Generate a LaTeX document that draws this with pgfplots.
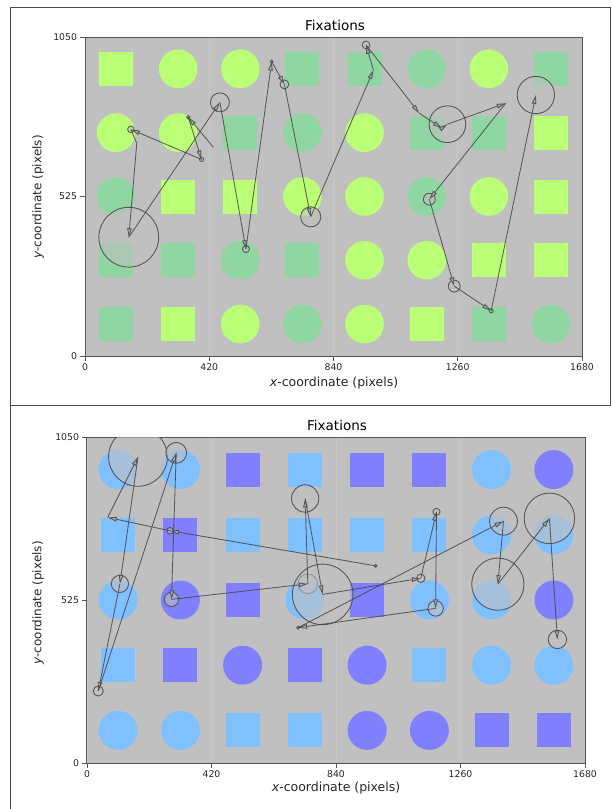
\documentclass[border=0pt]{standalone}
\usepackage{pgfplots}
\pgfplotsset{compat=1.18}
\usepackage{pgfplotstable}
\usepackage{fontspec}
\setmainfont{DejaVu Sans}
\usetikzlibrary{arrows.meta}
\definecolor{bgc}{RGB}{192,192,192}
\definecolor{limec}{RGB}{187,255,119}
\definecolor{greenc}{RGB}{143,214,163}
\definecolor{lbluec}{RGB}{128,192,255}
\definecolor{purpc}{RGB}{128,128,255}
\definecolor{gridc}{RGB}{200,200,200}
\definecolor{axc}{RGB}{85,85,85}
\definecolor{fixc}{RGB}{70,70,70}
\definecolor{headc}{RGB}{170,170,170}

% fixations: x y r (pixels of the screen)
\pgfplotstableread{
x y r
349 786 6
394 647 7
155 746 11
148 391 101
456 835 32
544 352 12
631 969 5
674 894 15
763 458 34
950 1024 13
1225 763 62
1164 516 20
1248 230 20
1373 149 7
1524 859 63
}\topfix

% saccades: from (x1,y1) to (x2,y2)
\pgfplotstableread{
x1 y1 x2 y2
434 687 349 786
349 786 394 647
394 647 155 746
175 700 148 391
148 391 456 835
456 835 544 352
544 352 631 969
631 969 674 894
674 894 763 458
763 458 975 941
975 941 950 1024
950 1024 1130 799
1130 799 1206 750
1206 750 1225 763
1225 763 1422 832
1422 832 1164 516
1164 516 1248 230
1248 230 1373 149
1373 149 1524 859
}\topseg

\pgfplotstableread{
x y r
974 635 5
280 748 11
172 986 99
111 577 29
38 232 17
301 999 35
285 527 24
745 577 33
736 852 46
795 543 102
1126 595 14
1179 809 12
1176 498 26
712 436 5
1405 779 47
1386 576 88
1560 788 85
1587 398 31
}\botfix

\pgfplotstableread{
x1 y1 x2 y2
974 635 280 748
280 748 70 791
70 791 172 986
172 986 111 577
111 577 38 232
38 232 301 999
301 999 285 527
285 527 745 577
745 577 736 852
736 852 795 543
795 543 1126 595
1126 595 1179 809
1179 809 1176 498
1176 498 712 436
712 436 1405 779
1405 779 1386 576
1386 576 1560 788
1560 788 1587 398
}\botseg

\pgfplotsset{
  fixaxis/.style={
    scale only axis,
    xmin=0, xmax=1680, ymin=0, ymax=1050,
    xtick={0,420,840,1260,1680}, ytick={0,525,1050},
    xtick pos=left, ytick pos=left,
    tick align=outside, major tick length=4.5pt,
    axis line style={draw=axc, line width=1pt},
    tick style={draw=axc, line width=0.8pt},
    axis background/.style={fill=bgc},
    xmajorgrids, major grid style={draw=gridc, line width=0.8pt},
    tick label style={font=\fontsize{9.3}{11}\selectfont, text=black!85},
    /pgf/number format/assume math mode=true,
    /pgf/number format/1000 sep={},
    clip marker paths=true,
  },
  shp/.style={only marks, mark options={draw=#1, draw opacity=0, line width=0pt, fill=#1}},
  fixcirc/.style={scatter, only marks, mark=*,
    visualization depends on={\thisrow{r}*#1 \as \msize},
    scatter/@pre marker code/.code={%
      \pgfmathsetlength{\pgfplotmarksize}{\msize pt}%
      \scope[draw=fixc, fill=bgc, fill opacity=0.6, draw opacity=0.85, line width=0.9pt]},
    scatter/@post marker code/.code={\endscope}},
  sacc/.style={draw=fixc, draw opacity=0.85, line width=0.85pt,
    -{Triangle[length=9pt,width=4.6pt,fill=headc]},
    quiver={u=\thisrow{x2}-\thisrow{x1}, v=\thisrow{y2}-\thisrow{y1}}},
}

\begin{document}
\begin{tikzpicture}
\path[use as bounding box] (0,0) rectangle (611pt,-809pt);

% ---------------- top panel ----------------
\begin{axis}[fixaxis, width=497pt, height=319pt, at={(85pt,-356pt)}, anchor=south west]
\addplot[shp=limec, mark=square*, mark size=17pt] coordinates {
 (105,945) (1575,735) (315,525) (525,525) (1575,525) (1365,315) (1575,315) (315,105) (1155,105)};
\addplot[shp=limec, mark=*, mark size=19.3pt] coordinates {
 (315,945) (525,945) (1365,945) (105,735) (315,735) (945,735) (735,525) (945,525) (1365,525) (945,315) (1155,315) (525,105) (945,105)};
\addplot[shp=greenc, mark=square*, mark size=17pt] coordinates {
 (735,945) (945,945) (1575,945) (525,735) (1155,735) (1365,735) (105,315) (315,315) (735,315) (105,105) (1365,105)};
\addplot[shp=greenc, mark=*, mark size=19.3pt] coordinates {
 (1155,945) (735,735) (105,525) (1155,525) (525,315) (735,105) (1575,105)};
\addplot[fixcirc=0.296] table[x=x,y=y]{\topfix};
\addplot[draw=fixc, draw opacity=0.85, line width=0.85pt, no marks] coordinates {(155,746) (175,700)};
\addplot[sacc] table[x=x1,y=y1]{\topseg};
\end{axis}

% ---------------- bottom panel ----------------
\begin{axis}[fixaxis, width=498pt, height=326pt, at={(87pt,-763pt)}, anchor=south west]
\addplot[shp=lbluec, mark=square*, mark size=17pt] coordinates {
 (735,945) (105,735) (525,735) (735,735) (945,735) (1155,735) (105,315) (1155,315) (525,105) (735,105)};
\addplot[shp=lbluec, mark=*, mark size=19.5pt] coordinates {
 (105,945) (315,945) (1365,945) (1365,735) (1575,735) (105,525) (735,525) (1155,525) (1365,525) (1365,315) (1575,315) (105,105) (315,105)};
\addplot[shp=purpc, mark=square*, mark size=17pt] coordinates {
 (525,945) (945,945) (1155,945) (315,735) (525,525) (945,525) (315,315) (735,315) (1365,105) (1575,105)};
\addplot[shp=purpc, mark=*, mark size=19.5pt] coordinates {
 (1575,945) (315,525) (1575,525) (525,315) (945,315) (945,105) (1155,105)};
\addplot[fixcirc=0.297] table[x=x,y=y]{\botfix};
\addplot[sacc] table[x=x1,y=y1]{\botseg};
\end{axis}

% titles and labels
\node[font=\fontsize{13.5}{15}\selectfont] at (335pt,-25pt) {Fixations};
\node[font=\fontsize{12.5}{14}\selectfont, text=black!85] at (334pt,-383pt) {\textit{x}-coordinate (pixels)};
\node[font=\fontsize{12}{14}\selectfont, text=black!85, rotate=90] at (38pt,-197pt) {\textit{y}-coordinate (pixels)};
\node[font=\fontsize{13.5}{15}\selectfont] at (337pt,-425pt) {Fixations};
\node[font=\fontsize{12.5}{14}\selectfont, text=black!85] at (336pt,-788pt) {\textit{x}-coordinate (pixels)};
\node[font=\fontsize{12}{14}\selectfont, text=black!85, rotate=90] at (38pt,-603pt) {\textit{y}-coordinate (pixels)};

% panel frames
\draw[line width=1pt, draw=black!70] (10.5pt,-7.5pt) rectangle (610.5pt,-405.5pt);
\draw[line width=1pt, draw=black!70] (10.5pt,-405.5pt) -- (10.5pt,-809pt);
\end{tikzpicture}
\end{document}
